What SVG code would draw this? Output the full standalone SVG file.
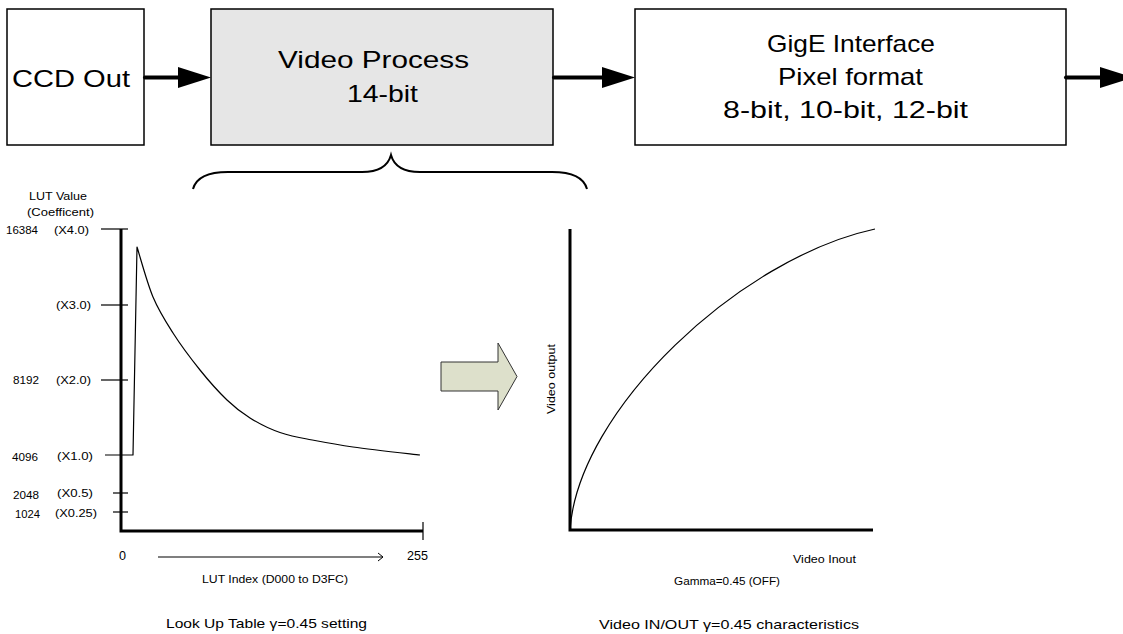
<svg xmlns="http://www.w3.org/2000/svg" width="1123" height="634" viewBox="0 0 1123 634">
<style>
  text { font-family: "Liberation Sans", "Noto Sans CJK JP", sans-serif; fill: #000; }
  .big { font-size: 24px; }
  .sm { font-size: 11px; }
  .md { font-size: 13px; }
  .box { stroke: #000; stroke-width: 1.5; }
  .conn { stroke: #000; stroke-width: 4; stroke-linecap: round; fill: none; }
  .head { fill: #000; stroke: none; }
  .axis { stroke: #000; stroke-width: 3; fill: none; }
  .tick { stroke: #000; stroke-width: 1.2; fill: none; }
  .curve { stroke: #000; stroke-width: 1.2; fill: none; stroke-linejoin: round; }
</style>
<rect width="1123" height="634" fill="#fff"/>

<g id="ccd-out">
  <rect class="box" x="7" y="9" width="137" height="136" fill="#fff"/>
  <text class="big" x="12" y="87" textLength="118" lengthAdjust="spacingAndGlyphs">CCD Out</text>
</g>
<g id="video-process">
  <rect class="box" x="211" y="9" width="342" height="136" fill="#e6e6e6"/>
  <text class="big" x="278" y="68" textLength="191" lengthAdjust="spacingAndGlyphs">Video Process</text>
  <text class="big" x="347" y="102" textLength="71" lengthAdjust="spacingAndGlyphs">14-bit</text>
</g>
<g id="gige-interface">
  <rect class="box" x="635" y="9" width="431" height="136" fill="#fff"/>
  <text class="big" x="767" y="52" textLength="168" lengthAdjust="spacingAndGlyphs">GigE Interface</text>
  <text class="big" x="778" y="85" textLength="145" lengthAdjust="spacingAndGlyphs">Pixel format</text>
  <text class="big" x="723" y="118" textLength="245" lengthAdjust="spacingAndGlyphs">8-bit, 10-bit, 12-bit</text>
</g>

<g id="connectors">
  <line class="conn" x1="145" y1="77.5" x2="180" y2="77.5"/>
  <polygon class="head" points="178,67 211,77.5 178,88"/>
  <line class="conn" x1="554" y1="77.5" x2="604" y2="77.5"/>
  <polygon class="head" points="602,67 635,77.5 602,88"/>
  <line class="conn" x1="1066" y1="77.5" x2="1102" y2="77.5"/>
  <polygon class="head" points="1100,67 1133,77.5 1100,88"/>
</g>

<g id="brace">
  <path d="M193,189 C196,178 206,172 228,172 L362,172 C378,172 388,166 391,155 C394,166 404,172 420,172 L552,172 C574,172 584,178 587,189" fill="none" stroke="#000" stroke-width="2"/>
</g>

<g id="lut-chart">
  <text class="sm" x="29" y="200" textLength="58" lengthAdjust="spacingAndGlyphs">LUT Value</text>
  <text class="sm" x="27" y="216" textLength="67" lengthAdjust="spacingAndGlyphs">(Coefficent)</text>
  <text class="sm" x="6" y="234" textLength="32" lengthAdjust="spacingAndGlyphs">16384</text>
  <text class="sm" x="54" y="234" textLength="35" lengthAdjust="spacingAndGlyphs">(X4.0)</text>
  <text class="sm" x="56" y="309" textLength="35" lengthAdjust="spacingAndGlyphs">(X3.0)</text>
  <text class="sm" x="13" y="384" textLength="26" lengthAdjust="spacingAndGlyphs">8192</text>
  <text class="sm" x="56" y="384" textLength="35" lengthAdjust="spacingAndGlyphs">(X2.0)</text>
  <text class="sm" x="12" y="461" textLength="26" lengthAdjust="spacingAndGlyphs">4096</text>
  <text class="sm" x="57" y="460" textLength="36" lengthAdjust="spacingAndGlyphs">(X1.0)</text>
  <text class="sm" x="13" y="499" textLength="26" lengthAdjust="spacingAndGlyphs">2048</text>
  <text class="sm" x="57" y="497" textLength="36" lengthAdjust="spacingAndGlyphs">(X0.5)</text>
  <text class="sm" x="15" y="518" textLength="25" lengthAdjust="spacingAndGlyphs">1024</text>
  <text class="sm" x="55" y="517" textLength="42" lengthAdjust="spacingAndGlyphs">(X0.25)</text>

  <line class="tick" x1="101" y1="229" x2="128" y2="229"/>
  <line class="tick" x1="101" y1="305" x2="128" y2="305"/>
  <line class="tick" x1="101" y1="380" x2="128" y2="380"/>
  <line class="tick" x1="113" y1="493" x2="128" y2="493"/>
  <line class="tick" x1="113" y1="512" x2="128" y2="512"/>
  <line class="tick" x1="423" y1="522" x2="423" y2="540"/>
  <path class="axis" d="M121,229 L121,531 L423,531"/>

  <path class="curve" d="M105,455 L133,455 L137,247 C139.7,255.3 147,282.7 153,297 C159,311.3 165.2,320.8 173,333 C180.8,345.2 191,358.8 200,370 C209,381.2 218.7,392 227,400 C235.3,408 241.2,412.5 250,418 C258.8,423.5 269.5,429 280,432.5 C290,435.8 296,437 307,439 C319.2,441.3 334.2,444.3 353,447 C371.8,449.7 408.8,453.7 420,455"/>

  <text class="md" x="119" y="560" textLength="7" lengthAdjust="spacingAndGlyphs">0</text>
  <text class="md" x="407" y="560" textLength="21" lengthAdjust="spacingAndGlyphs">255</text>
  <line class="tick" x1="158" y1="557" x2="383" y2="557" stroke-width="1"/>
  <path d="M378,553 L383,557 L378,561" fill="none" stroke="#000" stroke-width="1"/>
  <text class="sm" x="202" y="583" textLength="146" lengthAdjust="spacingAndGlyphs">LUT Index (D000 to D3FC)</text>
  <text class="md" x="166" y="628" textLength="201" lengthAdjust="spacingAndGlyphs">Look Up Table  γ=0.45 setting</text>
</g>

<g id="transfer-arrow">
  <polygon points="441,362 498,362 498,343 517,376.5 498,410 498,391 441,391" fill="#dde0cb" stroke="#333" stroke-width="1"/>
</g>

<g id="gamma-chart">
  <text class="sm" transform="translate(555,379) rotate(-90)" text-anchor="middle" textLength="70" lengthAdjust="spacingAndGlyphs">Video output</text>
  <path class="axis" d="M570,229 L570,530 L873,530"/>
  <path class="curve" d="M570,530 C578,410 740,258 875,229"/>
  <text class="sm" x="793" y="563" textLength="63" lengthAdjust="spacingAndGlyphs">Video Inout</text>
  <text class="sm" x="674" y="585" textLength="106" lengthAdjust="spacingAndGlyphs">Gamma=0.45 (OFF)</text>
  <text class="md" x="599" y="629" textLength="260" lengthAdjust="spacingAndGlyphs">Video IN/OUT  γ=0.45   characteristics</text>
</g>
</svg>
